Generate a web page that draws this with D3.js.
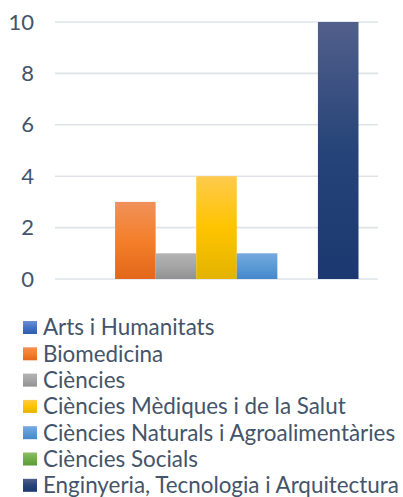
<!DOCTYPE html>
<html>
<head>
<meta charset="utf-8">
<script src="https://cdn.jsdelivr.net/npm/d3@7"></script>
<style>
  html, body { margin: 0; padding: 0; background: #fff; }
  svg { display: block; }
  text { font-family: Lato, "Open Sans", sans-serif; fill: #44546A; }
</style>
</head>
<body>
<svg id="chart" width="403" height="497"></svg>
<script>
// Number of research projects by knowledge area
const areas = [
  "Arts i Humanitats",
  "Biomedicina",
  "Ciències",
  "Ciències Mèdiques i de la Salut",
  "Ciències Naturals i Agroalimentàries",
  "Ciències Socials",
  "Enginyeria, Tecnologia i Arquitectura"
];
const counts = [0, 3, 1, 4, 1, 0, 10];
const yTicks = [0, 2, 4, 6, 8, 10];
// gradient stops per area: light top, base middle, shaded bottom
const colorTop = ["#6a8fd6", "#f0915a", "#b3b3b3", "#ffca4d", "#74a9de", "#8cbf6a", "#525f8b"];
const colorMid = ["#4472c4", "#f47f2a", "#a5a5a5", "#ffc400", "#5b9bd5", "#70ad47", "#264478"];
const colorBot = ["#2f5cb0", "#e3671a", "#919191", "#e3b300", "#4487cc", "#5a9a36", "#1b3870"];

const svg = d3.select("#chart");
const plot = { left: 55, right: 378, top: 22, bottom: 279 };

const y = d3.scaleLinear().domain([0, 10]).range([plot.bottom, plot.top]);
const x = d3.scaleBand().domain(areas).range([74.5, 358.5]).paddingInner(0);

// gradients
const defs = svg.append("defs");
areas.forEach((a, i) => {
  const g = defs.append("linearGradient")
    .attr("id", "grad" + i).attr("x1", 0).attr("y1", 0).attr("x2", 0).attr("y2", 1);
  g.append("stop").attr("offset", "0%").attr("stop-color", colorTop[i]);
  g.append("stop").attr("offset", "50%").attr("stop-color", colorMid[i]);
  g.append("stop").attr("offset", "100%").attr("stop-color", colorBot[i]);
});

// gridlines
svg.append("g").selectAll("line").data(yTicks).join("line")
  .attr("x1", plot.left).attr("x2", plot.right)
  .attr("y1", d => y(d)).attr("y2", d => y(d))
  .attr("stroke", "#dfe3e9").attr("stroke-width", 1.6);

// y axis labels
const yAxis = d3.axisLeft(y).tickValues(yTicks).tickSize(0).tickPadding(0);
const ya = svg.append("g").attr("transform", "translate(34,0)").call(yAxis);
ya.select(".domain").remove();
ya.selectAll("text")
  .attr("font-family", "Lato, 'Open Sans', sans-serif")
  .attr("font-size", 22)
  .attr("fill", "#44546A")
  .style("fill", "#44546A");

// bars
svg.append("g").selectAll("rect").data(areas).join("rect")
  .attr("x", d => x(d))
  .attr("width", x.bandwidth())
  .attr("y", (d, i) => y(counts[i]))
  .attr("height", (d, i) => y(0) - y(counts[i]))
  .attr("fill", (d, i) => `url(#grad${i})`);

// legend
const legend = svg.append("g").selectAll("g").data(areas).join("g")
  .attr("transform", (d, i) => `translate(23,${327.5 + i * 26.3})`);
legend.append("rect")
  .attr("x", 0).attr("y", -6.5).attr("width", 14).attr("height", 13)
  .attr("fill", (d, i) => `url(#grad${i})`);
legend.append("text")
  .attr("x", 20).attr("y", 0).attr("dy", "0.35em")
  .attr("font-size", 22.4)
  .text(d => d);
</script>
</body>
</html>
